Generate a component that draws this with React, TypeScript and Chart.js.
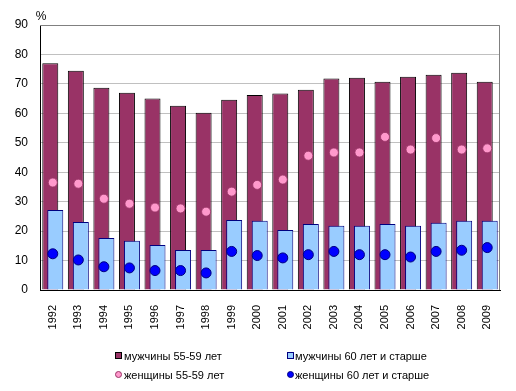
import React, { useEffect, useRef } from "react";
import { Chart, registerables } from "chart.js";

Chart.register(...registerables);

const years = ["1992","1993","1994","1995","1996","1997","1998","1999","2000","2001","2002","2003","2004","2005","2006","2007","2008","2009"];
const men5559 = [77, 74.5, 68.7, 67.0, 65.0, 62.6, 60.2, 64.6, 66.2, 66.7, 68.0, 71.8, 72.1, 70.7, 72.4, 73.1, 73.8, 70.7];
const men60plus = [27.2, 23.1, 17.7, 16.7, 15.3, 13.6, 13.6, 23.8, 23.5, 20.4, 22.4, 21.8, 21.8, 22.4, 21.8, 22.8, 23.5, 23.5];
const women5559 = [36.5, 36.1, 31.0, 29.3, 28.0, 27.7, 26.6, 33.4, 35.7, 37.5, 45.6, 46.7, 46.7, 52.0, 47.7, 51.6, 47.7, 48.1];
const women60plus = [12.3, 10.2, 7.9, 7.5, 6.6, 6.6, 5.8, 13.1, 11.7, 10.9, 12.0, 13.1, 12.0, 12.0, 11.2, 13.1, 13.5, 14.4];
const seriesNames = ["мужчины 55-59 лет", "мужчины 60 лет и старше", "женщины 55-59 лет", "женщины 60 лет и старше"];
const yTicks = [0, 10, 20, 30, 40, 50, 60, 70, 80, 90];

const FONT = 'Arial, "Liberation Sans", sans-serif';

export default function App() {
  const ref = useRef<HTMLCanvasElement | null>(null);

  useEffect(() => {
    if (!ref.current) return;
    const framePlugin = {
      id: "frame",
      beforeDatasetsDraw(chart: any) {
        const { ctx, chartArea: a } = chart;
        ctx.save();
        ctx.strokeStyle = "#808080";
        ctx.lineWidth = 1;
        ctx.beginPath();
        ctx.moveTo(a.left, a.top + 0.5);
        ctx.lineTo(a.right - 0.5, a.top + 0.5);
        ctx.lineTo(a.right - 0.5, a.bottom);
        ctx.stroke();
        ctx.fillStyle = "#000";
        ctx.font = "12px " + FONT;
        ctx.textAlign = "center";
        ctx.textBaseline = "middle";
        ctx.fillText("%", a.left + 1, a.top - 8);
        ctx.restore();
      },
    };
    // Draw the light-blue bars (dataset 1) right after the maroon bars (dataset 0), so they overlap on top
    const layerPlugin = {
      id: "layer",
      beforeDatasetDraw(chart: any, args: any) {
        if (args.index === 1 && !chart.$layerDrawing) return false;
        return true;
      },
      afterDatasetDraw(chart: any, args: any) {
        if (args.index === 0) {
          chart.$layerDrawing = true;
          const meta = chart.getDatasetMeta(1);
          meta.controller.draw();
          chart.$layerDrawing = false;
        }
      },
    };
    const chart = new Chart(ref.current, {
      type: "bar",
      data: {
        labels: years,
        datasets: [
          {
            type: "bar",
            label: seriesNames[0],
            data: men5559,
            backgroundColor: "#993366",
            borderColor: "#000000",
            borderWidth: 1,
            categoryPercentage: 0.391,
            barPercentage: 3.2,
            order: 2,
          },
          {
            type: "bar",
            label: seriesNames[1],
            data: men60plus,
            backgroundColor: "#99CCFF",
            borderColor: "#000080",
            borderWidth: 1,
            categoryPercentage: 0.391,
            barPercentage: 3.2,
            order: 3,
          },
          {
            type: "line",
            label: seriesNames[2],
            data: women5559,
            showLine: false,
            pointRadius: 4.5,
            pointBackgroundColor: "#FF99CC",
            pointBorderColor: "#993366",
            pointBorderWidth: 0.8,
            order: 1,
          },
          {
            type: "line",
            label: seriesNames[3],
            data: women60plus,
            showLine: false,
            pointRadius: 5,
            pointBackgroundColor: "#0000FF",
            pointBorderColor: "#000080",
            pointBorderWidth: 1,
            order: 0,
          },
        ] as any,
      },
      options: {
        responsive: false,
        animation: false,
        events: [],
        layout: { padding: { left: 0, right: 16, top: 25, bottom: 0 } },
        plugins: {
          legend: { display: false },
          tooltip: { enabled: false },
        },
        scales: {
          x: {
            grid: { display: false, drawTicks: false },
            border: { color: "#000000", width: 1 },
            ticks: {
              autoSkip: false,
              minRotation: 90,
              maxRotation: 90,
              padding: 15,
              color: "#000",
              font: { family: FONT, size: 11 },
            },
            afterFit(scale: any) {
              scale.height = 101;
            },
          },
          y: {
            min: 0,
            max: 90,
            afterBuildTicks(scale: any) {
              scale.ticks = yTicks.map((v) => ({ value: v }));
            },
            grid: { color: "#C0C0C0", drawTicks: false },
            border: { color: "#000000", width: 1 },
            ticks: {
              padding: 12,
              color: "#000",
              font: { family: FONT, size: 12 },
            },
            afterFit(scale: any) {
              scale.width = 40;
            },
          },
        },
      },
      plugins: [framePlugin, layerPlugin],
    });
    return () => chart.destroy();
  }, []);

  const legendText: React.CSSProperties = {
    position: "absolute",
    fontFamily: FONT,
    fontSize: 11,
    color: "#000",
    whiteSpace: "nowrap",
    lineHeight: "12px",
  };
  const sq = (bg: string, border: string, x: number, y: number): React.CSSProperties => ({
    position: "absolute",
    left: x,
    top: y,
    width: 5,
    height: 5,
    background: bg,
    border: "1px solid " + border,
  });
  const dot = (bg: string, border: string, x: number, y: number): React.CSSProperties => ({
    position: "absolute",
    left: x,
    top: y,
    width: 5,
    height: 5,
    borderRadius: "50%",
    background: bg,
    border: "1px solid " + border,
  });

  return (
    <div style={{ position: "absolute", left: 0, top: 0, width: 516, height: 391, background: "#fff" }}>
      <canvas ref={ref} width={516} height={391} style={{ display: "block" }} />
      <div style={sq("#993366", "#000000", 115, 352)} />
      <div style={{ ...legendText, left: 124, top: 350 }}>{seriesNames[0]}</div>
      <div style={sq("#99CCFF", "#000080", 287, 352)} />
      <div style={{ ...legendText, left: 295, top: 350 }}>{seriesNames[1]}</div>
      <div style={dot("#FF99CC", "#993366", 115, 371)} />
      <div style={{ ...legendText, left: 124, top: 369 }}>{seriesNames[2]}</div>
      <div style={dot("#0000FF", "#000080", 287, 371)} />
      <div style={{ ...legendText, left: 295, top: 369 }}>{seriesNames[3]}</div>
    </div>
  );
}
